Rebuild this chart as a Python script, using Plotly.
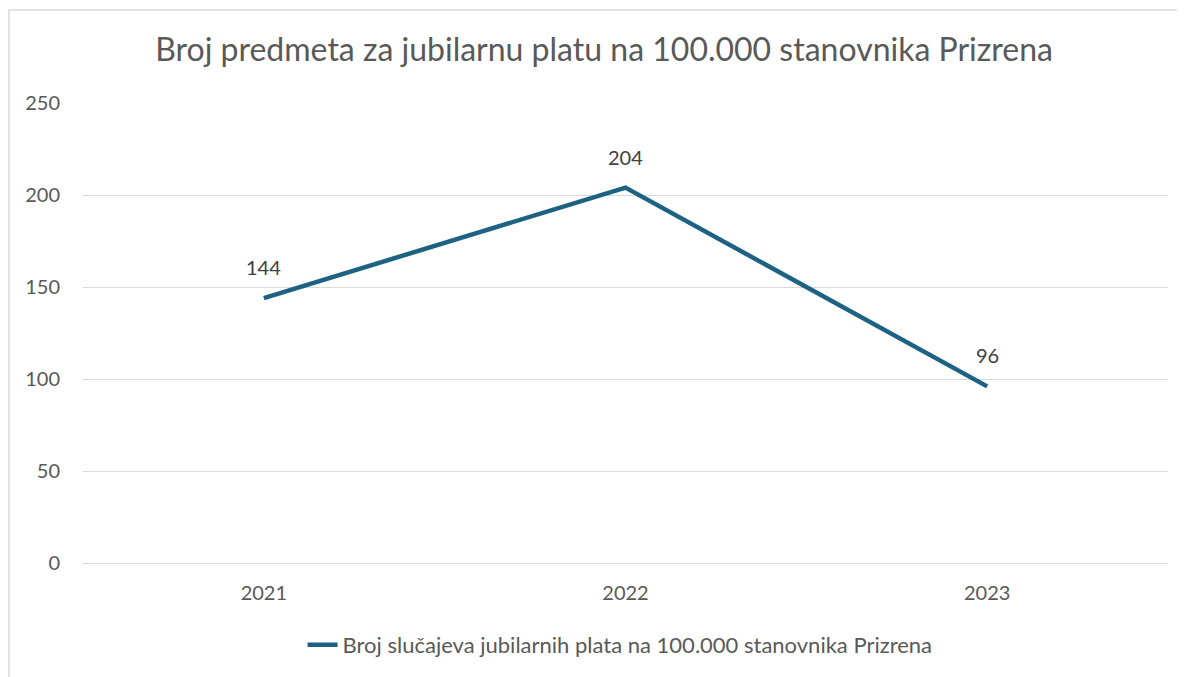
import plotly.graph_objects as go

years = ["2021", "2022", "2023"]
values = [144, 204, 96]
series_name = "Broj slučajeva jubilarnih plata na 100.000 stanovnika Prizrena"
title_text = "Broj predmeta za jubilarnu platu na 100.000 stanovnika Prizrena"

FONT = "Lato, 'Open Sans', sans-serif"
LINE = "#1d6183"
GREY = "#595959"

fig = go.Figure()
fig.add_trace(go.Scatter(
    x=years, y=values, name=series_name,
    mode="lines",
    line=dict(color=LINE, width=4.5),
    cliponaxis=False,
))

annotations = [
    dict(x=i, y=v, xref="x", yref="y", text=str(v), showarrow=False,
         yshift=31, yanchor="middle", xanchor="center",
         font=dict(family=FONT, size=20, color="#404040"))
    for i, v in enumerate(values)
]

fig.update_layout(
    width=1185, height=677,
    margin=dict(l=75, r=25, t=95, b=122),
    paper_bgcolor="white", plot_bgcolor="white",
    font=dict(family=FONT, color=GREY),
    title=dict(text=title_text, x=0.503, xref="container", y=0.938, yref="container",
               xanchor="center", yanchor="middle",
               font=dict(family=FONT, size=32, color=GREY)),
    showlegend=True,
    legend=dict(orientation="h", x=0.495, xanchor="center", y=-0.178, yanchor="middle",
                font=dict(family=FONT, size=22, color=GREY)),
    xaxis=dict(type="category", range=[-0.5, 2.5], showgrid=False, zeroline=False, showline=False,
               tickfont=dict(family=FONT, size=20, color=GREY),
               ticks="outside", ticklen=12, tickcolor="rgba(0,0,0,0)"),
    yaxis=dict(range=[0, 250], dtick=50, showgrid=True, gridcolor="#d9d9d9", gridwidth=1,
               zeroline=True, zerolinecolor="#d9d9d9", zerolinewidth=1, showline=False,
               tickfont=dict(family=FONT, size=20, color=GREY),
               ticks="outside", ticklen=18, tickcolor="rgba(0,0,0,0)"),
    annotations=annotations,
    shapes=[dict(type="rect", xref="paper", yref="paper",
                 x0=(1 - 75) / 1085, x1=1.05, y0=-0.4, y1=(555 - 2) / 460,
                 line=dict(color="#d9d9d9", width=1.5), fillcolor="rgba(0,0,0,0)", layer="below")],
)

fig.write_html("out.html")
